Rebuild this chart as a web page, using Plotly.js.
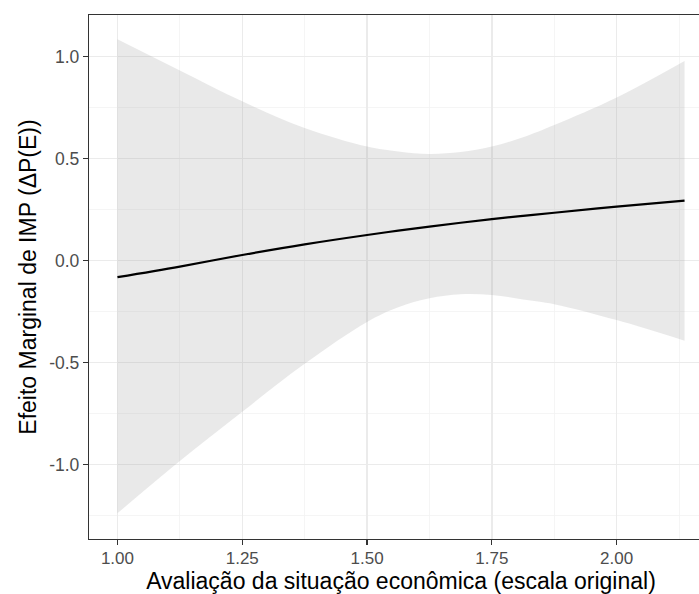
<!DOCTYPE html>
<html>
<head>
<meta charset="utf-8">
<script src="https://cdn.plot.ly/plotly-3.0.1.min.js"></script>
<style>
html, body { margin: 0; padding: 0; width: 699px; height: 594px; overflow: hidden; background: #fff; }
#chart { width: 713px; height: 594px; }
</style>
</head>
<body>
<div id="chart"></div>
<script>
// Values
var xVals   = [1.0, 1.125, 1.25, 1.375, 1.5, 1.5625, 1.625, 1.6875, 1.75, 1.8125, 1.875, 2.0, 2.136];
var effect  = [-0.081, -0.029, 0.028, 0.080, 0.126, 0.147, 0.167, 0.186, 0.204, 0.220, 0.235, 0.265, 0.294];
var upperCI = [1.085, 0.932, 0.781, 0.650, 0.559, 0.535, 0.523, 0.532, 0.559, 0.605, 0.665, 0.800, 0.979];
var lowerCI = [-1.238, -0.982, -0.740, -0.505, -0.300, -0.228, -0.184, -0.164, -0.168, -0.190, -0.213, -0.291, -0.392];

var xTickVals = [1.0, 1.25, 1.5, 1.75, 2.0];
var xTickText = ["1.00", "1.25", "1.50", "1.75", "2.00"];
var yTickVals = [-1.0, -0.5, 0.0, 0.5, 1.0];
var yTickText = ["-1.0", "-0.5", "0.0", "0.5", "1.0"];

var xTitle = "Avaliação da situação econômica (escala original)";
var yTitle = "Efeito Marginal de IMP (ΔP(E))";

var traces = [
  {
    x: xVals, y: lowerCI, type: "scatter", mode: "lines",
    line: {width: 0, shape: "spline", smoothing: 1, color: "rgba(0,0,0,0)"},
    hoverinfo: "skip", showlegend: false
  },
  {
    x: xVals, y: upperCI, type: "scatter", mode: "lines",
    fill: "tonexty", fillcolor: "rgba(153,153,153,0.22)",
    line: {width: 0, shape: "spline", smoothing: 1, color: "rgba(0,0,0,0)"},
    hoverinfo: "skip", showlegend: false
  },
  {
    x: xVals, y: effect, type: "scatter", mode: "lines",
    line: {width: 2.2, color: "#000000", shape: "spline"},
    showlegend: false
  }
];

var font = "Liberation Sans, Arial, Helvetica, sans-serif";

var layout = {
  width: 713, height: 594,
  margin: {l: 89, r: 0, t: 15, b: 55},
  paper_bgcolor: "#ffffff", plot_bgcolor: "#ffffff",
  font: {family: font},
  showlegend: false,
  xaxis: {
    range: [0.943, 2.193],
    tickvals: xTickVals, ticktext: xTickText,
    ticks: "outside", ticklen: 5, tickwidth: 1.2, tickcolor: "#333333",
    ticklabelstandoff: -2,
    tickfont: {size: 17, color: "#4D4D4D", family: font},
    showgrid: true, gridcolor: "#EBEBEB", gridwidth: 1.3,
    minor: {dtick: 0.125, tick0: 1.0, showgrid: true, gridcolor: "#F2F2F2", gridwidth: 0.8, ticks: ""},
    zeroline: false,
    showline: true, mirror: true, linecolor: "#333333", linewidth: 1.2,
    title: {text: xTitle, font: {size: 23, color: "#000000", family: font}, standoff: 6}
  },
  yaxis: {
    range: [-1.364, 1.204],
    tickvals: yTickVals, ticktext: yTickText,
    ticks: "outside", ticklen: 5, tickwidth: 1.2, tickcolor: "#333333",
    tickfont: {size: 17.5, color: "#4D4D4D", family: font},
    showgrid: true, gridcolor: "#EBEBEB", gridwidth: 1.3,
    minor: {dtick: 0.25, tick0: 0, showgrid: true, gridcolor: "#F2F2F2", gridwidth: 0.8, ticks: ""},
    zeroline: false,
    showline: true, mirror: true, linecolor: "#333333", linewidth: 1.2,
    title: {text: yTitle, font: {size: 23, color: "#000000", family: font}, standoff: 6}
  }
};

Plotly.newPlot("chart", traces, layout, {staticPlot: true, displayModeBar: false});
</script>
</body>
</html>
